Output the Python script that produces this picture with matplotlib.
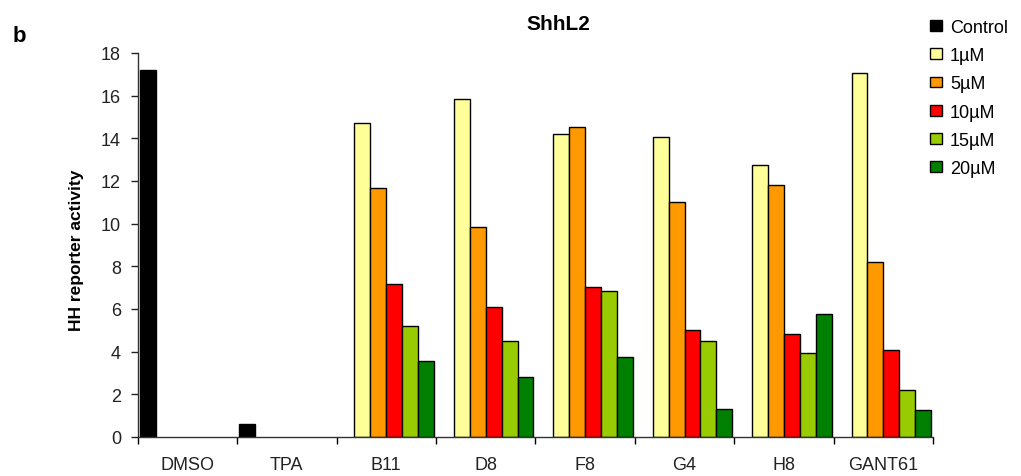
import numpy as np
import matplotlib
matplotlib.use("Agg")
import matplotlib.pyplot as plt

plt.rcParams['font.family'] = ['Liberation Sans', 'DejaVu Sans']

# Treatments along the x axis
categories = ["DMSO", "TPA", "B11", "D8", "F8", "G4", "H8", "GANT61"]

# HH reporter activity per treatment (nan = not measured)
nan = np.nan
control = [17.2, 0.6, nan, nan, nan, nan, nan, nan]
conc_1uM = [nan, nan, 14.7, 15.85, 14.2, 14.05, 12.75, 17.05]
conc_5uM = [nan, nan, 11.65, 9.85, 14.55, 11.0, 11.8, 8.2]
conc_10uM = [nan, nan, 7.15, 6.1, 7.05, 5.0, 4.85, 4.1]
conc_15uM = [nan, nan, 5.2, 4.5, 6.85, 4.5, 3.95, 2.2]
conc_20uM = [nan, nan, 3.55, 2.8, 3.75, 1.3, 5.75, 1.25]

series_labels = ["Control", "1\u00b5M", "5\u00b5M", "10\u00b5M", "15\u00b5M", "20\u00b5M"]
series_values = [control, conc_1uM, conc_5uM, conc_10uM, conc_15uM, conc_20uM]
series_colors = ["#000000", "#FFFF99", "#FF9900", "#FF0000", "#99CC00", "#008000"]

y_ticks = [0, 2, 4, 6, 8, 10, 12, 14, 16, 18]

fig = plt.figure(figsize=(10.21, 4.77), dpi=100)
ax = fig.add_axes([0.1349, 0.0818, 0.779, 0.805])

n_cat = len(categories)
bar_w = 0.16
offset = 0.02
idx = np.arange(n_cat)
for j, (vals, lab, col) in enumerate(zip(series_values, series_labels, series_colors)):
    ax.bar(idx + offset + j * bar_w, vals, width=bar_w, align="edge",
           color=col, edgecolor="black", linewidth=1.0, label=lab)

ax.set_xlim(0, n_cat)
ax.set_ylim(0, 18)
ax.set_yticks(y_ticks)
ax.tick_params(axis="y", direction="out", length=5, width=1, pad=7,
               labelsize=13, colors="#222222")

# Boundary ticks between groups, labels centred under each group
ax.set_xticks(np.arange(n_cat + 1))
ax.set_xticklabels([])
ax.set_xticks(idx + 0.5, minor=True)
ax.set_xticklabels(categories, minor=True)
ax.tick_params(axis="x", which="major", direction="out", length=5, width=1)
ax.tick_params(axis="x", which="minor", length=0, pad=14, labelsize=13,
               colors="#222222")

for side in ("top", "right"):
    ax.spines[side].set_visible(False)
for side in ("left", "bottom"):
    ax.spines[side].set_color("#333333")
    ax.spines[side].set_linewidth(1.0)

ax.set_ylabel("HH reporter activity", fontsize=12.5, fontweight="bold")
ax.yaxis.set_label_coords(-0.068, 0.49)

fig.text(558 / 1021, 1 - 24 / 477, "ShhL2", ha="center", va="center",
         fontsize=15, fontweight="bold")
fig.text(19 / 1021, 1 - 36 / 477, "b", ha="center", va="center",
         fontsize=16, fontweight="bold")

leg = ax.legend(loc="upper left", bbox_to_anchor=(930 / 1021, 1 - 20 / 477),
                bbox_transform=fig.transFigure, frameon=False, fontsize=13,
                handlelength=0.65, handleheight=0.55, handletextpad=0.45,
                labelspacing=0.62, borderpad=0, borderaxespad=0)

fig.savefig("out.png", dpi=100)
